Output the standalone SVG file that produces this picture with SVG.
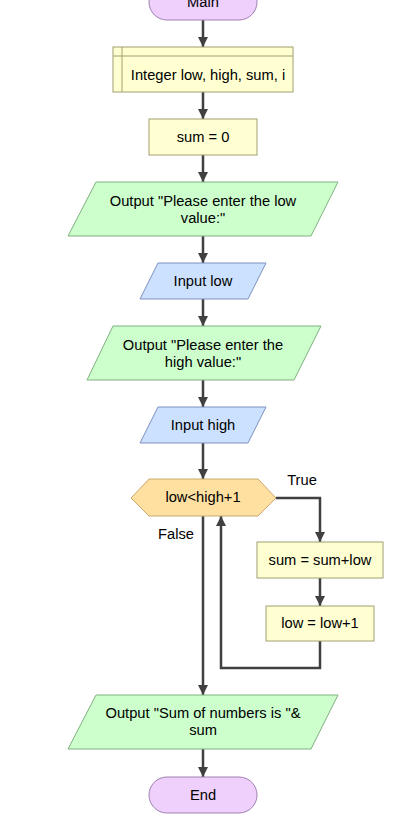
<svg xmlns="http://www.w3.org/2000/svg" width="416" height="820" viewBox="0 0 416 820">
<defs>
<marker id="ah" viewBox="0 0 10 10" refX="10" refY="5" markerWidth="10" markerHeight="10" markerUnits="userSpaceOnUse" orient="auto">
<path d="M0,0 L10,5 L0,10 Z" fill="#404040"/>
</marker>
</defs>
<style>
text{font-family:"Liberation Sans",Arial,sans-serif;font-size:14.7px;fill:#000;text-anchor:middle;dominant-baseline:central}
.term{fill:#efd0fc;stroke:#a080b0;stroke-width:1}
.proc{fill:#ffffd2;stroke:#a0a070;stroke-width:1}
.out{fill:#ccffcc;stroke:#80b080;stroke-width:1}
.in{fill:#cce0ff;stroke:#8090c0;stroke-width:1}
.dec{fill:#ffe0a0;stroke:#c8a870;stroke-width:1}
.c{fill:none;stroke:#404040;stroke-width:2.5;marker-end:url(#ah)}
</style>
<g id="connectors">
<line class="c" x1="203" y1="20" x2="203" y2="47"/>
<line class="c" x1="203" y1="92" x2="203" y2="119"/>
<line class="c" x1="203" y1="155" x2="203" y2="182"/>
<line class="c" x1="203" y1="236" x2="203" y2="263"/>
<line class="c" x1="203" y1="299" x2="203" y2="326"/>
<line class="c" x1="203" y1="380" x2="203" y2="407"/>
<line class="c" x1="203" y1="443" x2="203" y2="479"/>
<polyline class="c" points="276,498 320,498 320,542"/>
<line class="c" x1="320" y1="578" x2="320" y2="606"/>
<polyline class="c" points="320,641 320,668 221,668 221,516"/>
<line class="c" x1="203" y1="516" x2="203" y2="695"/>
<line class="c" x1="203" y1="749" x2="203" y2="777"/>
<text x="302" y="480">True</text>
<text x="176" y="534">False</text>
</g>
<g id="main">
<rect class="term" x="149" y="-16" width="108" height="36" rx="18"/>
<text x="203" y="2">Main</text>
</g>
<g id="declare">
<rect class="proc" x="113" y="47" width="180" height="45"/>
<line x1="122" y1="47" x2="122" y2="92" stroke="#a0a070"/>
<line x1="113" y1="56" x2="293" y2="56" stroke="#a0a070"/>
<text x="208" y="75">Integer low, high, sum, i</text>
</g>
<g id="assign0">
<rect class="proc" x="149" y="119" width="108" height="36"/>
<text x="203" y="137">sum = 0</text>
</g>
<g id="outlow">
<polygon class="out" points="96,182 338,182 311,236 68,236"/>
<text x="203" y="201">Output "Please enter the low</text>
<text x="203" y="218">value:"</text>
</g>
<g id="inlow">
<polygon class="in" points="158,263 266,263 248,299 140,299"/>
<text x="203" y="281">Input low</text>
</g>
<g id="outhigh">
<polygon class="out" points="113,326 321,326 294,380 87,380"/>
<text x="203" y="345">Output "Please enter the</text>
<text x="203" y="362">high value:"</text>
</g>
<g id="inhigh">
<polygon class="in" points="158,407 266,407 248,443 140,443"/>
<text x="203" y="425">Input high</text>
</g>
<g id="decision">
<polygon class="dec" points="131,498 149,479 258,479 276,498 258,516 149,516"/>
<text x="203" y="497">low&lt;high+1</text>
</g>
<g id="sumadd">
<rect class="proc" x="257" y="542" width="126" height="36"/>
<text x="320" y="560">sum = sum+low</text>
</g>
<g id="lowinc">
<rect class="proc" x="266" y="606" width="108" height="35"/>
<text x="320" y="623">low = low+1</text>
</g>
<g id="outsum">
<polygon class="out" points="96,695 338,695 311,749 68,749"/>
<text x="203" y="713">Output "Sum of numbers is "&amp;</text>
<text x="203" y="730">sum</text>
</g>
<g id="end">
<rect class="term" x="149" y="777" width="108" height="36" rx="18"/>
<text x="203" y="795">End</text>
</g>
</svg>
